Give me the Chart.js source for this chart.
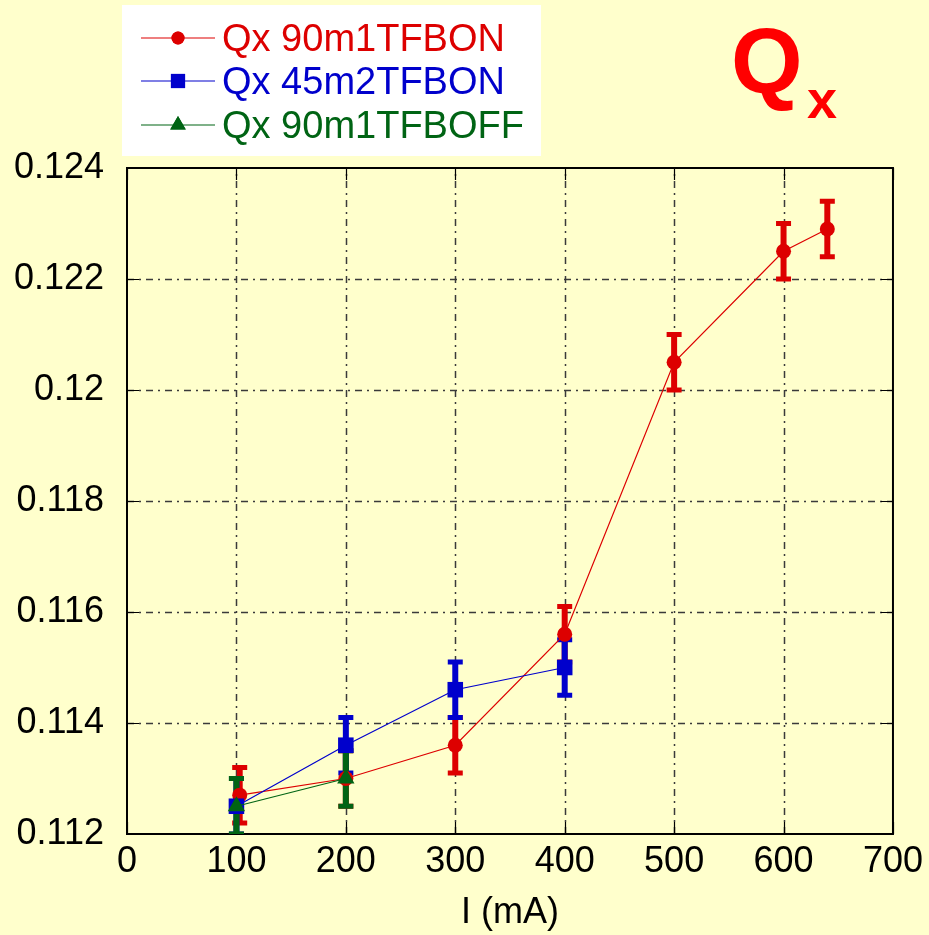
<!DOCTYPE html>
<html>
<head>
<meta charset="utf-8">
<title>Qx vs I</title>
<script src="https://cdn.jsdelivr.net/npm/chart.js@4/dist/chart.umd.min.js"></script>
<style>
  html, body { margin: 0; padding: 0; background: #FFFFCC; }
  #wrap { width: 929px; height: 935px; }
</style>
</head>
<body>
<div id="wrap"><canvas id="c" width="929" height="935"></canvas></div>
<script>
// Beam current (mA) and measured horizontal tune Qx, with ± error
const xRed = [103, 200, 300, 400, 500, 600, 640];
const qRed = [0.1127, 0.1130, 0.1136, 0.1156, 0.1205, 0.1225, 0.1229];
const eRed = [0.0005, 0.0005, 0.0005, 0.0005, 0.0005, 0.0005, 0.0005];

const xBlue = [100, 200, 300, 400];
const qBlue = [0.1125, 0.1136, 0.1146, 0.1150];
const eBlue = [0.0005, 0.0005, 0.0005, 0.0005];

const xGreen = [100, 200];
const qGreen = [0.1125, 0.1130];
const eGreen = [0.0005, 0.0005];

const seriesNames = ['Qx 90m1TFBON', 'Qx 45m2TFBON', 'Qx 90m1TFBOFF'];
const xTicks = [0, 100, 200, 300, 400, 500, 600, 700];
const yTicks = [0.112, 0.114, 0.116, 0.118, 0.12, 0.122, 0.124];

const RED = '#dd0000', BLUE = '#0000cc', GREEN = '#006414';
const FONT = '"Liberation Sans", Arial, sans-serif';

function pts(xs, ys) { return xs.map((x, i) => ({ x: x, y: ys[i] })); }

const errs = [eRed, eBlue, eGreen];

const framePlugin = {
  id: 'frame',
  beforeDraw(chart) {
    const ctx = chart.ctx;
    ctx.save();
    ctx.fillStyle = '#FFFFCC';
    ctx.fillRect(0, 0, chart.width, chart.height);
    ctx.restore();
  },
  beforeDatasetsDraw(chart) {
    const ctx = chart.ctx, a = chart.chartArea;
    const xs = chart.scales.x, ys = chart.scales.y;
    ctx.save();
    // dash-dot grid
    ctx.strokeStyle = '#3a3a3a';
    ctx.lineWidth = 1.5;
    ctx.setLineDash([7, 5, 2, 5]);
    xs.ticks.forEach(t => {
      const px = Math.round(xs.getPixelForValue(t.value)) + 0.5;
      if (px <= a.left + 2 || px >= a.right - 2) return;
      ctx.beginPath(); ctx.moveTo(px, a.bottom); ctx.lineTo(px, a.top); ctx.stroke();
    });
    ys.ticks.forEach(t => {
      const py = Math.round(ys.getPixelForValue(t.value)) + 0.5;
      if (py <= a.top + 2 || py >= a.bottom - 2) return;
      ctx.beginPath(); ctx.moveTo(a.left, py); ctx.lineTo(a.right, py); ctx.stroke();
    });
    ctx.setLineDash([]);
    // inward tick marks
    ctx.strokeStyle = '#000';
    ctx.lineWidth = 1.2;
    xs.ticks.forEach(t => {
      const px = Math.round(xs.getPixelForValue(t.value)) + 0.5;
      ctx.beginPath(); ctx.moveTo(px, a.bottom); ctx.lineTo(px, a.bottom - 12);
      ctx.moveTo(px, a.top); ctx.lineTo(px, a.top + 12); ctx.stroke();
    });
    ys.ticks.forEach(t => {
      const py = Math.round(ys.getPixelForValue(t.value)) + 0.5;
      ctx.beginPath(); ctx.moveTo(a.left, py); ctx.lineTo(a.left + 12, py);
      ctx.moveTo(a.right, py); ctx.lineTo(a.right - 12, py); ctx.stroke();
    });
    // frame
    ctx.lineWidth = 2;
    ctx.strokeRect(a.left, a.top, a.right - a.left, a.bottom - a.top);

    // error bars
    ctx.beginPath();
    ctx.rect(a.left, a.top, a.right - a.left, a.bottom - a.top);
    ctx.clip();
    chart.data.datasets.forEach((ds, di) => {
      const e = errs[di];
      ctx.strokeStyle = ds.borderColor;
      ds.data.forEach((p, i) => {
        const px = xs.getPixelForValue(p.x);
        const yt = ys.getPixelForValue(p.y + e[i]);
        const yb = ys.getPixelForValue(p.y - e[i]);
        ctx.lineWidth = 6;
        ctx.beginPath(); ctx.moveTo(px, yt); ctx.lineTo(px, yb); ctx.stroke();
        ctx.lineWidth = 5;
        ctx.beginPath();
        ctx.moveTo(px - 7.5, yt); ctx.lineTo(px + 7.5, yt);
        ctx.moveTo(px - 7.5, yb); ctx.lineTo(px + 7.5, yb);
        ctx.stroke();
      });
    });
    ctx.restore();
  },
  afterDraw(chart) {
    const ctx = chart.ctx;
    ctx.save();
    // legend box
    ctx.fillStyle = '#ffffff';
    ctx.fillRect(122, 5, 419, 151);
    const rowsY = [38, 81, 125];
    const styles = ['circle', 'rect', 'triangle'];
    const radii = [6.5, 10, 9];
    chart.data.datasets.forEach((ds, i) => {
      const y = rowsY[i];
      ctx.strokeStyle = ds.borderColor;
      ctx.lineWidth = 1.2;
      ctx.beginPath(); ctx.moveTo(141, y); ctx.lineTo(215, y); ctx.stroke();
      ctx.fillStyle = ds.borderColor;
      Chart.helpers.drawPoint(ctx, { pointStyle: styles[i], radius: radii[i], borderWidth: 0 }, 178, y);
      ctx.fill();
      ctx.font = '38px ' + FONT;
      ctx.textBaseline = 'middle';
      ctx.textAlign = 'left';
      ctx.fillText(ds.label, 222, y + 3);
    });
    // big Qx label
    ctx.fillStyle = '#ff0000';
    ctx.textBaseline = 'alphabetic';
    ctx.font = 'bold 92px ' + FONT;
    ctx.fillText('Q', 731, 93);
    ctx.font = 'bold 54px ' + FONT;
    ctx.fillText('x', 807, 118);
    ctx.restore();
  }
};

const chart = new Chart(document.getElementById('c'), {
  type: 'scatter',
  data: {
    datasets: [
      { label: seriesNames[0], data: pts(xRed, qRed), showLine: true, order: 3,
        borderColor: RED, backgroundColor: RED, borderWidth: 1.2,
        pointStyle: 'circle', pointRadius: 7.5, pointBorderWidth: 0, pointBackgroundColor: RED },
      { label: seriesNames[1], data: pts(xBlue, qBlue), showLine: true, order: 2,
        borderColor: BLUE, backgroundColor: BLUE, borderWidth: 1.2,
        pointStyle: 'rect', pointRadius: 11, pointBorderWidth: 0, pointBackgroundColor: BLUE },
      { label: seriesNames[2], data: pts(xGreen, qGreen), showLine: true, order: 1,
        borderColor: GREEN, backgroundColor: GREEN, borderWidth: 1.2,
        pointStyle: 'triangle', pointRadius: 10, pointBorderWidth: 0, pointBackgroundColor: GREEN }
    ]
  },
  options: {
    responsive: false,
    animation: false,
    devicePixelRatio: 1,
    layout: { padding: { left: 0, right: 36, top: 168, bottom: 0 } },
    plugins: { legend: { display: false }, tooltip: { enabled: false } },
    scales: {
      x: {
        type: 'linear', min: 0, max: 700,
        afterBuildTicks: s => { s.ticks = xTicks.map(v => ({ value: v })); },
        afterFit: s => { s.height = 101; },
        grid: { display: false, drawTicks: false },
        border: { display: false },
        ticks: { autoSkip: false, maxRotation: 0, padding: 6, color: '#000',
                 font: { family: FONT, size: 36 }, callback: v => String(v) },
        title: { display: true, text: 'I (mA)', color: '#000', padding: { top: 0, bottom: 0 },
                 font: { family: FONT, size: 36 } }
      },
      y: {
        type: 'linear', min: 0.112, max: 0.124,
        afterBuildTicks: s => { s.ticks = yTicks.map(v => ({ value: v })); },
        afterFit: s => { s.width = 127; },
        grid: { display: false, drawTicks: false },
        border: { display: false },
        ticks: { autoSkip: false, padding: 23, color: '#000',
                 font: { family: FONT, size: 36 },
                 callback: v => String(Number(v.toFixed(3))) }
      }
    }
  },
  plugins: [framePlugin]
});
</script>
</body>
</html>
